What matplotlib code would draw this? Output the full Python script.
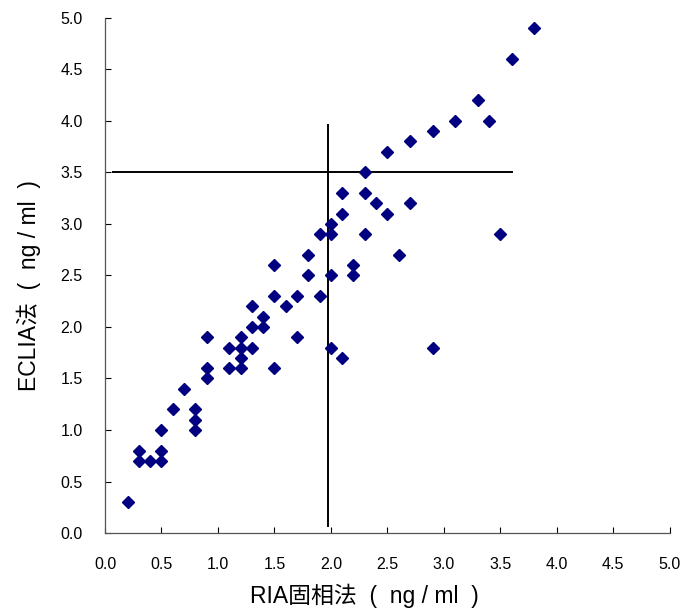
import matplotlib
matplotlib.use("Agg")
import matplotlib.pyplot as plt
from matplotlib.ticker import FormatStrFormatter

# RIA solid-phase vs ECLIA values (ng/ml)
ria = [0.2, 0.3, 0.3, 0.4, 0.5, 0.5, 0.5, 0.6, 0.7, 0.8, 0.8, 0.8,
       0.9, 0.9, 0.9, 1.1, 1.1, 1.2, 1.2, 1.2, 1.2, 1.3, 1.3, 1.3,
       1.4, 1.4, 1.5, 1.5, 1.5, 1.6, 1.7, 1.7, 1.8, 1.8, 1.9, 1.9,
       2.0, 2.0, 2.0, 2.0, 2.1, 2.1, 2.1, 2.2, 2.2, 2.3, 2.3, 2.3,
       2.4, 2.5, 2.5, 2.6, 2.7, 2.7, 2.9, 2.9, 3.1, 3.3, 3.4, 3.5,
       3.6, 3.8]
eclia = [0.3, 0.8, 0.7, 0.7, 0.8, 0.7, 1.0, 1.2, 1.4, 1.2, 1.1, 1.0,
         1.9, 1.6, 1.5, 1.8, 1.6, 1.9, 1.8, 1.7, 1.6, 2.2, 2.0, 1.8,
         2.1, 2.0, 2.6, 2.3, 1.6, 2.2, 2.3, 1.9, 2.7, 2.5, 2.9, 2.3,
         3.0, 2.9, 2.5, 1.8, 3.3, 3.1, 1.7, 2.6, 2.5, 3.5, 3.3, 2.9,
         3.2, 3.7, 3.1, 2.7, 3.8, 3.2, 3.9, 1.8, 4.0, 4.2, 4.0, 2.9,
         4.6, 4.9]

# cut-off lines
cut_x = 1.97
cut_y = 3.5
vline_span = (0.07, 3.96)
hline_span = (0.07, 3.6)

ticks = [0.0, 0.5, 1.0, 1.5, 2.0, 2.5, 3.0, 3.5, 4.0, 4.5, 5.0]

fam = ["Liberation Sans", "Noto Sans CJK SC", "DejaVu Sans"]
plt.rcParams["font.family"] = fam

fig = plt.figure(figsize=(6.82, 6.12), dpi=100)
ax = fig.add_axes([0.154, 0.129, 0.828, 0.842])

ax.plot(ria, eclia, linestyle="none", marker="D", markersize=6.6,
        color="#000080", markeredgecolor="#000080", zorder=3)
ax.plot([cut_x, cut_x], vline_span, color="black", linewidth=1.4, zorder=2)
ax.plot(hline_span, [cut_y, cut_y], color="black", linewidth=1.4, zorder=2)

ax.set_xlim(0, 5)
ax.set_ylim(0, 5)
ax.set_xticks(ticks)
ax.set_yticks(ticks)
ax.xaxis.set_major_formatter(FormatStrFormatter("%.1f"))
ax.yaxis.set_major_formatter(FormatStrFormatter("%.1f"))
ax.tick_params(direction="in", length=4, width=0.8, labelsize=11.5,
               color="black")
ax.tick_params(axis="x", pad=17)
ax.tick_params(axis="y", pad=16)

for s in ["top", "right"]:
    ax.spines[s].set_visible(False)
for s in ["left", "bottom"]:
    ax.spines[s].set_color("#555555")
    ax.spines[s].set_linewidth(0.9)

# axis titles placed like the original (slightly off-centre)
ax.text(0.46, -0.122, "RIA固相法  (  ng / ml  )", transform=ax.transAxes,
        ha="center", va="center", fontsize=16.5)
ax.text(-0.135, 0.48, "ECLIA法  (  ng / ml  )", transform=ax.transAxes,
        ha="center", va="center", rotation=90, fontsize=16.5)

fig.savefig("out.png", dpi=100)
